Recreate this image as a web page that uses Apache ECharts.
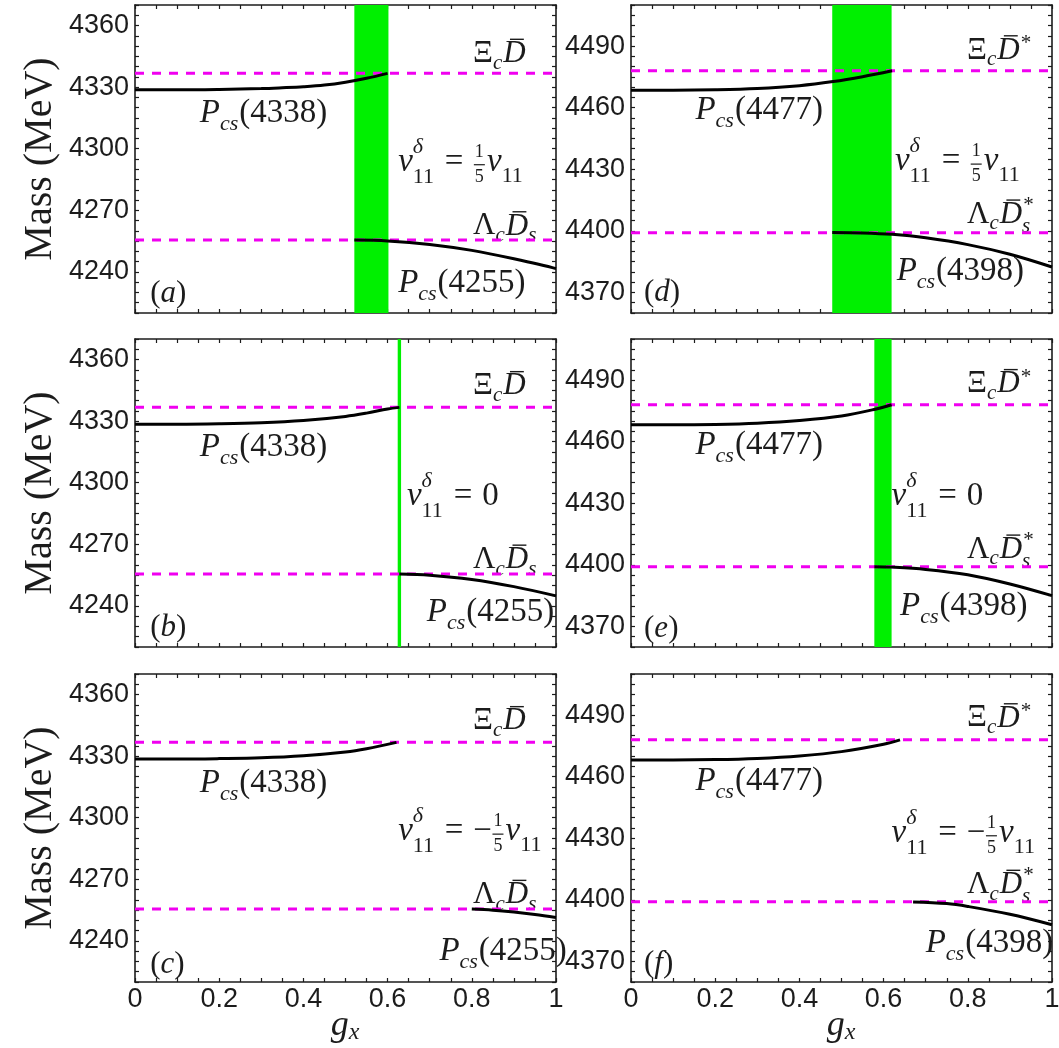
<!DOCTYPE html>
<html><head><meta charset="utf-8">
<script src="https://cdn.jsdelivr.net/npm/echarts@6/dist/echarts.min.js"></script>
<style>html,body{margin:0;padding:0;background:#fff}#c{width:1059px;height:1048px}</style>
</head><body><div id="c"></div>
<script>
// ---------------- data ----------------
const gxTicks = [0, 0.2, 0.4, 0.6, 0.8, 1];
const leftMassTicks = [4240, 4270, 4300, 4330, 4360];
const rightMassTicks = [4370, 4400, 4430, 4460, 4490];
const leftRange = [4220, 4370];
const rightRange = [4360, 4510];

const thrXiD = 4336.8;      // Xi_c Dbar
const thrLamDs = 4255.5;    // Lambda_c Dbar_s
const thrXiDst = 4478.0;    // Xi_c Dbar*
const thrLamDsst = 4399.1;  // Lambda_c Dbar_s*

const a_Pcs4338 = [[0,4328.7],[0.1,4328.7],[0.2,4328.9],[0.3,4329.3],[0.35,4329.7],[0.4,4330.2],[0.45,4331.0],[0.5,4332.4],[0.55,4334.3],[0.6,4336.7]];
const a_Pcs4255 = [[0.521,4255.5],[0.6,4255.1],[0.7,4253.4],[0.8,4250.5],[0.9,4246.4],[1.0,4241.6]];
const b_Pcs4338 = [[0,4328.5],[0.1,4328.5],[0.2,4328.7],[0.3,4329.2],[0.4,4330.3],[0.5,4332.3],[0.55,4333.9],[0.6,4335.9],[0.628,4336.7]];
const b_Pcs4255 = [[0.628,4255.5],[0.7,4255.0],[0.8,4252.9],[0.9,4249.4],[1.0,4244.9]];
const c_Pcs4338 = [[0,4328.6],[0.1,4328.6],[0.2,4328.8],[0.3,4329.2],[0.4,4330.2],[0.5,4332.0],[0.55,4333.6],[0.621,4336.7]];
const c_Pcs4255 = [[0.80,4255.5],[0.85,4255.0],[0.9,4254.1],[0.95,4252.9],[1.0,4251.4]];
const d_Pcs4477 = [[0,4468.5],[0.1,4468.5],[0.2,4468.7],[0.3,4469.3],[0.4,4470.7],[0.48,4472.7],[0.55,4475.1],[0.62,4478.0]];
const d_Pcs4398 = [[0.478,4399.2],[0.55,4399.0],[0.62,4398.3],[0.7,4396.6],[0.8,4393.3],[0.9,4388.6],[1.0,4382.4]];
const e_Pcs4477 = [[0,4468.2],[0.1,4468.2],[0.2,4468.4],[0.3,4469.0],[0.4,4470.3],[0.5,4472.5],[0.58,4475.8],[0.619,4478.0]];
const e_Pcs4398 = [[0.578,4399.1],[0.62,4398.9],[0.7,4397.8],[0.8,4395.2],[0.9,4390.7],[1.0,4385.0]];
const f_Pcs4477 = [[0,4468.1],[0.1,4468.1],[0.2,4468.3],[0.3,4468.9],[0.4,4470.1],[0.5,4472.2],[0.6,4475.8],[0.639,4477.9]];
const f_Pcs4398 = [[0.67,4399.0],[0.75,4398.2],[0.8,4396.8],[0.9,4393.0],[1.0,4387.9]];

const bandA = [0.521, 0.602];
const bandB = [0.624, 0.632];
const bandD = [0.478, 0.619];
const bandE = [0.578, 0.619];

// ---------------- layout / styles ----------------
const SERIF = '"Liberation Serif", "Times New Roman", serif';
const SANS = '"Liberation Sans", Arial, sans-serif';
const INK = '#1c1c1c';
const gridPos = [
  {left:135, top:5}, {left:631, top:5},
  {left:135, top:339}, {left:631, top:339},
  {left:135, top:674}, {left:631, top:674}
];
const GW = 421, GH = 308;

const T = {
  XiD: [{t:'Ξ'},{sub:'c',subIt:1},{t:'D',it:1,bar:1}],
  LamDs: [{t:'Λ'},{sub:'c',subIt:1},{t:'D',it:1,bar:1},{sub:'s',subIt:1}],
  XiDst: [{t:'Ξ'},{sub:'c',subIt:1},{t:'D',it:1,bar:1},{sup:'*',supDy:-0.22,supDx:0.04}],
  LamDsst: [{t:'Λ'},{sub:'c',subIt:1},{t:'D',it:1,bar:1},{sup:'*',supDy:-0.3,supDx:0.04,sub:'s',subIt:1,subDy:0.38}],
  P: n => [{t:'P',it:1},{sub:'cs',subIt:1,subDy:0.33},{t:'('+n+')'}],
  vHead: [{t:'v',it:1},{sup:'δ',supIt:1,sub:'11'},{sp:0.3},{t:'='},{sp:0.3}],
  vTail: [{t:'v',it:1},{sub:'11',subDy:0.42}],
  label: ch => [{t:'('},{t:ch,it:1},{t:')'}]
};
const vPos = T.vHead.concat([{frac:['1','5']}], T.vTail);
const vZero = T.vHead.concat([{t:'0'}]);
const vNeg = T.vHead.concat([{t:'−'},{frac:['1','5']}], T.vTail);

const SA = 33, SB = 31;
const panels = [
  {gi:0, range:leftRange, ticks:leftMassTicks, up:a_Pcs4338, lo:a_Pcs4255, thr:[thrXiD,thrLamDs], band:bandA,
   ann:[[T.XiD,0.803,4346.2,SB],[T.LamDs,0.803,4262.2,SB],[T.P('4338'),0.154,4317.3,SA],[T.P('4255'),0.625,4234.3,SA],[vPos,0.625,4293.5,SA],[T.label('a'),0.036,4229.5,SB]]},
  {gi:1, range:rightRange, ticks:rightMassTicks, up:d_Pcs4477, lo:d_Pcs4398, thr:[thrXiDst,thrLamDsst], band:bandD,
   ann:[[T.XiDst,0.798,4487.9,SB],[T.LamDsst,0.798,4407.9,SB],[T.P('4477'),0.153,4458.6,SA],[T.P('4398'),0.631,4380.5,SA],[vPos,0.627,4433.8,SA],[T.label('d'),0.031,4370,SB]]},
  {gi:2, range:leftRange, ticks:leftMassTicks, up:b_Pcs4338, lo:b_Pcs4255, thr:[thrXiD,thrLamDs], band:bandB,
   ann:[[T.XiD,0.803,4347,SB],[T.LamDs,0.803,4262.5,SB],[T.P('4338'),0.154,4317,SA],[T.P('4255'),0.693,4236.8,SA],[vZero,0.646,4293.5,SA],[T.label('b'),0.036,4229.5,SB]]},
  {gi:3, range:rightRange, ticks:rightMassTicks, up:e_Pcs4477, lo:e_Pcs4398, thr:[thrXiDst,thrLamDsst], band:bandE,
   ann:[[T.XiDst,0.798,4488,SB],[T.LamDsst,0.798,4407.4,SB],[T.P('4477'),0.153,4458,SA],[T.P('4398'),0.639,4379.7,SA],[vZero,0.619,4433.5,SA],[T.label('e'),0.031,4369,SB]]},
  {gi:4, range:leftRange, ticks:leftMassTicks, up:c_Pcs4338, lo:c_Pcs4255, thr:[thrXiD,thrLamDs], band:null,
   ann:[[T.XiD,0.803,4347,SB],[T.LamDs,0.803,4262.4,SB],[T.P('4338'),0.154,4316.9,SA],[T.P('4255'),0.723,4234.8,SA],[vNeg,0.625,4293.3,SA],[T.label('c'),0.036,4228.5,SB]]},
  {gi:5, range:rightRange, ticks:rightMassTicks, up:f_Pcs4477, lo:f_Pcs4398, thr:[thrXiDst,thrLamDsst], band:null,
   ann:[[T.XiDst,0.798,4488.4,SB],[T.LamDsst,0.798,4407.3,SB],[T.P('4477'),0.153,4457.6,SA],[T.P('4398'),0.70,4379,SA],[vNeg,0.619,4432.5,SA],[T.label('f'),0.031,4369,SB]]}
];

function tickLabel(v, list){
  for (const t of list) if (Math.abs(v - t) < 1e-6) return String(t);
  return '';
}

const grids = [], xAxes = [], yAxes = [], series = [];
panels.forEach(p => {
  const g = gridPos[p.gi];
  grids.push({left:g.left, top:g.top, width:GW, height:GH, containLabel:false, outerBoundsMode:'none', show:false});
  const showX = p.gi >= 4;
  const axLine = {show:true, onZero:false, lineStyle:{color:INK, width:1.6}};
  const tick = {show:true, inside:true, length:4, lineStyle:{color:INK, width:1.2}};
  ['bottom','top'].forEach((pos, k) => xAxes.push({
    type:'value', gridIndex:p.gi, position:pos, min:0, max:1, interval:0.05,
    axisLine:axLine, axisTick:tick, splitLine:{show:false},
    axisLabel:{show: showX && k===0, margin:4, fontSize:27, fontFamily:SANS, color:INK,
      formatter: v => tickLabel(v, gxTicks)}
  }));
  ['left','right'].forEach((pos, k) => yAxes.push({
    type:'value', gridIndex:p.gi, position:pos, min:p.range[0], max:p.range[1], interval:5,
    axisLine:axLine, axisTick:tick, splitLine:{show:false},
    axisLabel:{show: k===0, margin:6, fontSize:27, fontFamily:SANS, color:INK,
      formatter: v => tickLabel(v, p.ticks)}
  }));
  const xi = 2*p.gi, yi = 2*p.gi;
  if (p.band) {
    series.push({type:'line', xAxisIndex:xi, yAxisIndex:yi, z:1, symbol:'none', silent:true,
      data:[[p.band[0], p.range[0]],[p.band[1], p.range[0]]], lineStyle:{opacity:0},
      markArea:{silent:true, itemStyle:{color:'#00f000', opacity:1}, data:[[{xAxis:p.band[0]},{xAxis:p.band[1]}]]}});
  }
  p.thr.forEach(t => series.push({type:'line', xAxisIndex:xi, yAxisIndex:yi, z:2, symbol:'none', silent:true,
    data:[[0,t],[1,t]], lineStyle:{color:'#f000f0', width:3, type:[9,8]}}));
  [p.up, p.lo].forEach(d => series.push({type:'line', xAxisIndex:xi, yAxisIndex:yi, z:3, symbol:'none', silent:true,
    smooth:0.35, data:d, lineStyle:{color:'#000', width:3}}));
});

const chart = echarts.init(document.getElementById('c'), null, {renderer:'canvas'});
chart.setOption({animation:false, backgroundColor:'#fff', grid:grids, xAxis:xAxes, yAxis:yAxes, series:series});

// -------- math-like text builder --------
const mctx = document.createElement('canvas').getContext('2d');
function tw(t, size, it){ mctx.font = (it?'italic ':'') + size + 'px ' + SERIF; return mctx.measureText(t).width; }
function txt(t, x, y, size, it){
  return {type:'text', x:x, y:y, silent:true, style:{text:t, fontSize:size, fontFamily:SERIF,
    fontStyle: it?'italic':'normal', fill:INK, verticalAlign:'middle', align:'left'}};
}
function build(tokens, S){
  const s = Math.round(S*0.68);
  const ch = []; let x = 0;
  for (const k of tokens){
    if (k.sp != null){ x += k.sp*S; continue; }
    if (k.frac){
      const fs = Math.round(S*0.56);
      const w1 = tw(k.frac[0], fs), w2 = tw(k.frac[1], fs);
      const w = Math.max(w1, w2) + 3;
      ch.push(txt(k.frac[0], x + (w-w1)/2, -0.30*S, fs));
      ch.push(txt(k.frac[1], x + (w-w2)/2, 0.46*S, fs));
      ch.push({type:'line', silent:true, shape:{x1:x+0.5, y1:0.08*S, x2:x+w-0.5, y2:0.08*S}, style:{stroke:INK, lineWidth:1.2}});
      x += w + 0.05*S; continue;
    }
    if (k.sup != null || k.sub != null){
      const both = k.sup != null && k.sub != null;
      let w = 0;
      if (k.sup != null){
        const dx = (k.supDx||0)*S;
        const dy = (k.supDy != null ? k.supDy : (both ? -0.45 : -0.35))*S;
        ch.push(txt(k.sup, x+dx, dy, s, k.supIt));
        w = Math.max(w, dx + tw(k.sup, s, k.supIt));
      }
      if (k.sub != null){
        const dy = (k.subDy != null ? k.subDy : (both ? 0.45 : 0.30))*S;
        ch.push(txt(k.sub, x, dy, s, k.subIt));
        w = Math.max(w, tw(k.sub, s, k.subIt));
      }
      x += w + 0.03*S; continue;
    }
    const w = tw(k.t, S, k.it);
    ch.push(txt(k.t, x, 0, S, k.it));
    if (k.bar){
      ch.push({type:'line', silent:true, shape:{x1:x+0.3*w, y1:-0.47*S, x2:x+0.92*w, y2:-0.47*S},
        style:{stroke:INK, lineWidth:Math.max(1.2, S*0.045)}});
    }
    x += w;
  }
  return {children:ch, width:x};
}

const graphics = [];
panels.forEach(p => {
  const finder = {xAxisIndex:2*p.gi, yAxisIndex:2*p.gi};
  p.ann.forEach(a => {
    const b = build(a[0], a[3]);
    const pt = chart.convertToPixel(finder, [a[1], a[2]]);
    graphics.push({type:'group', x:pt[0], y:pt[1], silent:true, children:b.children});
  });
  const tl = chart.convertToPixel(finder, [0, p.range[1]]);
  const br = chart.convertToPixel(finder, [1, p.range[0]]);
  if (p.gi % 2 === 0){
    graphics.push({type:'text', x:40, y:(tl[1]+br[1])/2, rotation:Math.PI/2, silent:true,
      style:{text:'Mass (MeV)', fontSize:40, fontFamily:SERIF, fill:INK, align:'center', verticalAlign:'middle'}});
  }
  if (p.gi >= 4){
    const b = build([{t:'g',it:1},{sub:'x',subIt:1,subDy:0.18}], 36);
    graphics.push({type:'group', x:(tl[0]+br[0])/2 - b.width/2, y:br[1]+44, silent:true, children:b.children});
  }
});
chart.setOption({graphic:graphics});
</script>
</body></html>
